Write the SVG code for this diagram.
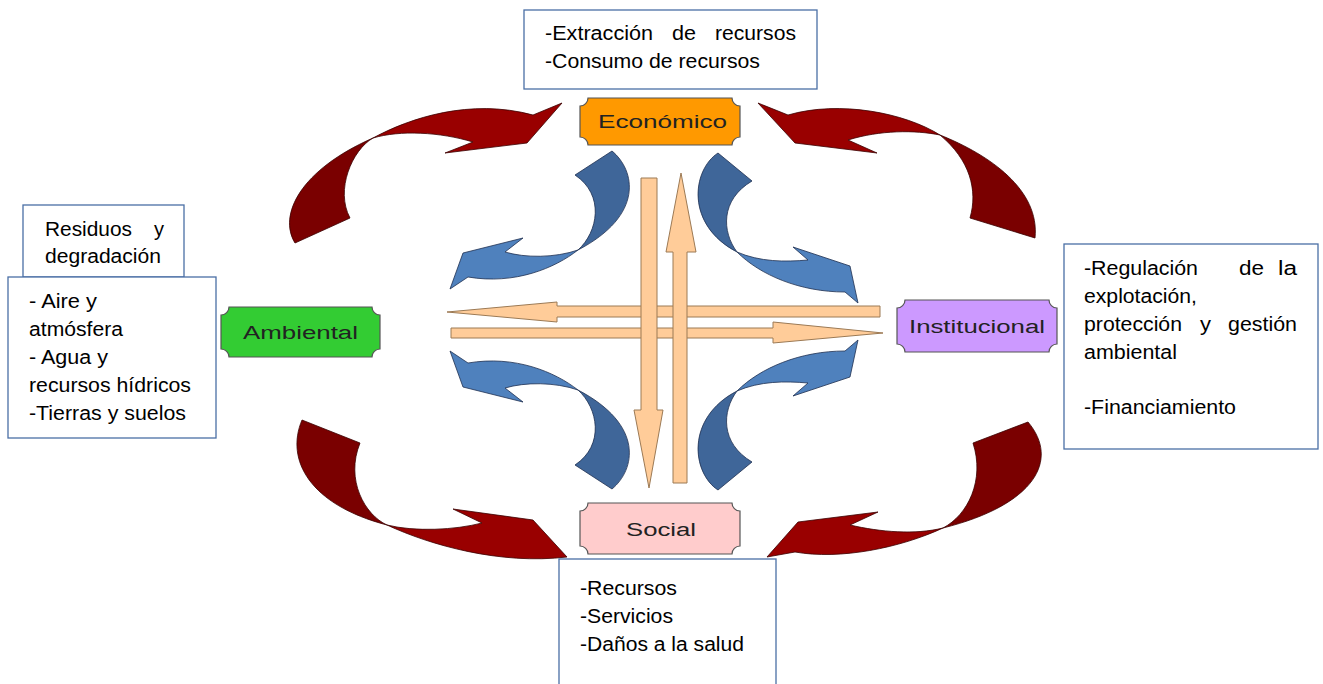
<svg xmlns="http://www.w3.org/2000/svg" width="1323" height="684" viewBox="0 0 1323 684">
<style>
.box{fill:#fff;stroke:#4a6fa5;stroke-width:1.3}
.bt{font-family:"Liberation Sans",Arial,sans-serif;font-size:20px;fill:#000}
.nt{font-family:"Liberation Sans",Arial,sans-serif;font-size:18px;fill:#222;text-anchor:start}
.node{stroke:#555;stroke-width:1.2}
.rt{fill:#7a0000;stroke:#3a0000;stroke-width:0.8}
.rh{fill:#990000;stroke:#3a0000;stroke-width:0.8}
.bta{fill:#3f6699;stroke:#1f3050;stroke-width:0.8}
.bh{fill:#4f81bd;stroke:#1f3050;stroke-width:0.8}
.pa{fill:#ffcc99;stroke:#9c7a55;stroke-width:1}
</style>
<rect width="1323" height="684" fill="#fff"/>
<g id="connectors">
  <g id="red-arrows">
    <path class="rt" d="M295,243 C278,215 300,170 373,138 C352,150 335,190 350,218 Z"/>
    <path class="rh" d="M373,138 C410,118 470,98 533,115 L562,103 L527,143 L445,153 L473,142 C440,132 400,130 373,138 Z"/>
    <path class="rt" d="M940,135 C990,155 1040,190 1035,238 L970,218 C978,190 970,160 940,135 Z"/>
    <path class="rh" d="M940,135 C905,113 840,100 788,115 L758,103 L795,143 L877,153 L848,140 C880,130 915,130 940,135 Z"/>
    <path class="rt" d="M302,420 C285,460 310,505 387,525 C365,515 345,480 360,443 Z"/>
    <path class="rh" d="M387,525 C430,545 500,565 567,557 L533,520 L453,509 L482,523 C455,530 415,532 387,525 Z"/>
    <path class="rt" d="M1028,422 C1060,460 1035,505 943,528 C968,515 985,480 973,443 Z"/>
    <path class="rh" d="M943,528 C900,548 840,560 795,552 L767,557 L798,522 L878,512 L850,525 C880,532 915,535 943,528 Z"/>
  </g>
  <g id="blue-arrows">
    <g id="blue-ul">
      <path class="bta" d="M612,151 C635,170 645,215 578,250 C598,232 605,195 575,175 Z"/>
      <path class="bh" d="M578,250 C555,268 515,285 468,277 L450,289 L463,253 L523,238 L505,252 C525,258 555,258 578,250 Z"/>
    </g>
    <g id="blue-ll" transform="translate(0,640) scale(1,-1)">
      <path class="bta" d="M612,151 C635,170 645,215 578,250 C598,232 605,195 575,175 Z"/>
      <path class="bh" d="M578,250 C555,268 515,285 468,277 L450,289 L463,253 L523,238 L505,252 C525,258 555,258 578,250 Z"/>
    </g>
    <g id="blue-ur">
      <path class="bta" d="M718,153 C692,170 685,225 737,252 C722,232 720,200 752,181 Z"/>
      <path class="bh" d="M737,252 C760,275 800,292 845,292 L858,303 L850,266 L793,247 L808,260 C785,262 760,262 737,252 Z"/>
    </g>
    <g id="blue-lr" transform="translate(0,643) scale(1,-1)">
      <path class="bta" d="M718,153 C692,170 685,225 737,252 C722,232 720,200 752,181 Z"/>
      <path class="bh" d="M737,252 C760,275 800,292 845,292 L858,303 L850,266 L793,247 L808,260 C785,262 760,262 737,252 Z"/>
    </g>
  </g>
  <g id="peach-arrows">
    <polygon class="pa" points="880,306 880,317 557,317 557,322 447,312 557,302 557,306"/>
    <polygon class="pa" points="451,328 451,338 773,338 773,343 883,333 773,322 773,328"/>
    <polygon class="pa" points="641,178 657,178 657,410 663,410 649,488 634,410 641,410"/>
    <polygon class="pa" points="673,483 687,483 687,252 696,252 681,173 666,252 673,252"/>
  </g>
</g>
<g id="node-economico">
  <path class="node" fill="#ff9900" d="M588,98 L732,98 A8,8 0 0 0 740,106 L740,137 A8,8 0 0 0 732,145 L588,145 A8,8 0 0 0 580,137 L580,106 A8,8 0 0 0 588,98 Z"/>
  <text class="nt" x="598" y="128" textLength="129" lengthAdjust="spacingAndGlyphs">Económico</text>
</g>
<g id="node-ambiental">
  <path class="node" fill="#33cc33" d="M229,307 L372,307 A8,8 0 0 0 380,315 L380,349 A8,8 0 0 0 372,357 L229,357 A8,8 0 0 0 221,349 L221,315 A8,8 0 0 0 229,307 Z"/>
  <text class="nt" x="243" y="339" textLength="115" lengthAdjust="spacingAndGlyphs">Ambiental</text>
</g>
<g id="node-institucional">
  <path class="node" fill="#cc99ff" d="M905,300 L1049,300 A8,8 0 0 0 1057,308 L1057,344 A8,8 0 0 0 1049,352 L905,352 A8,8 0 0 0 897,344 L897,308 A8,8 0 0 0 905,300 Z"/>
  <text class="nt" x="909" y="333" textLength="136" lengthAdjust="spacingAndGlyphs">Institucional</text>
</g>
<g id="node-social">
  <path class="node" fill="#ffcccc" d="M588,503 L732,503 A8,8 0 0 0 740,511 L740,546 A8,8 0 0 0 732,554 L588,554 A8,8 0 0 0 580,546 L580,511 A8,8 0 0 0 588,503 Z"/>
  <text class="nt" x="626" y="536" textLength="70" lengthAdjust="spacingAndGlyphs">Social</text>
</g>
<g id="box-economico">
  <rect class="box" x="524" y="10" width="293" height="79"/>
  <text class="bt" x="545" y="40" textLength="108" lengthAdjust="spacingAndGlyphs">-Extracción</text>
  <text class="bt" x="672" y="40" textLength="24" lengthAdjust="spacingAndGlyphs">de</text>
  <text class="bt" x="715" y="40" textLength="81" lengthAdjust="spacingAndGlyphs">recursos</text>
  <text class="bt" x="545" y="68" textLength="215" lengthAdjust="spacingAndGlyphs">-Consumo de recursos</text>
</g>
<g id="box-residuos">
  <rect class="box" x="23" y="205" width="161" height="72"/>
  <text class="bt" x="45" y="236" textLength="87" lengthAdjust="spacingAndGlyphs">Residuos</text>
  <text class="bt" x="154" y="236" textLength="10" lengthAdjust="spacingAndGlyphs">y</text>
  <text class="bt" x="45" y="263" textLength="116" lengthAdjust="spacingAndGlyphs">degradación</text>
</g>
<g id="box-ambiental">
  <rect class="box" x="8" y="277" width="208" height="161"/>
  <text class="bt" x="29" y="308" textLength="68" lengthAdjust="spacingAndGlyphs">- Aire y</text>
  <text class="bt" x="29" y="336" textLength="94" lengthAdjust="spacingAndGlyphs">atmósfera</text>
  <text class="bt" x="29" y="364" textLength="79" lengthAdjust="spacingAndGlyphs">- Agua y</text>
  <text class="bt" x="29" y="392" textLength="162" lengthAdjust="spacingAndGlyphs">recursos hídricos</text>
  <text class="bt" x="29" y="420" textLength="157" lengthAdjust="spacingAndGlyphs">-Tierras y suelos</text>
</g>
<g id="box-institucional">
  <rect class="box" x="1064" y="244" width="254" height="205"/>
  <text class="bt" x="1084" y="275" textLength="114" lengthAdjust="spacingAndGlyphs">-Regulación</text>
  <text class="bt" x="1239" y="275" textLength="25" lengthAdjust="spacingAndGlyphs">de</text>
  <text class="bt" x="1278" y="275" textLength="19" lengthAdjust="spacingAndGlyphs">la</text>
  <text class="bt" x="1084" y="303" textLength="113" lengthAdjust="spacingAndGlyphs">explotación,</text>
  <text class="bt" x="1084" y="331" textLength="98" lengthAdjust="spacingAndGlyphs">protección</text>
  <text class="bt" x="1200" y="331" textLength="11" lengthAdjust="spacingAndGlyphs">y</text>
  <text class="bt" x="1228" y="331" textLength="69" lengthAdjust="spacingAndGlyphs">gestión</text>
  <text class="bt" x="1084" y="359" textLength="93" lengthAdjust="spacingAndGlyphs">ambiental</text>
  <text class="bt" x="1084" y="414" textLength="152" lengthAdjust="spacingAndGlyphs">-Financiamiento</text>
</g>
<g id="box-social">
  <rect class="box" x="559" y="559" width="217" height="140"/>
  <text class="bt" x="580" y="595" textLength="97" lengthAdjust="spacingAndGlyphs">-Recursos</text>
  <text class="bt" x="580" y="623" textLength="93" lengthAdjust="spacingAndGlyphs">-Servicios</text>
  <text class="bt" x="580" y="651" textLength="164" lengthAdjust="spacingAndGlyphs">-Daños a la salud</text>
</g>
</svg>
